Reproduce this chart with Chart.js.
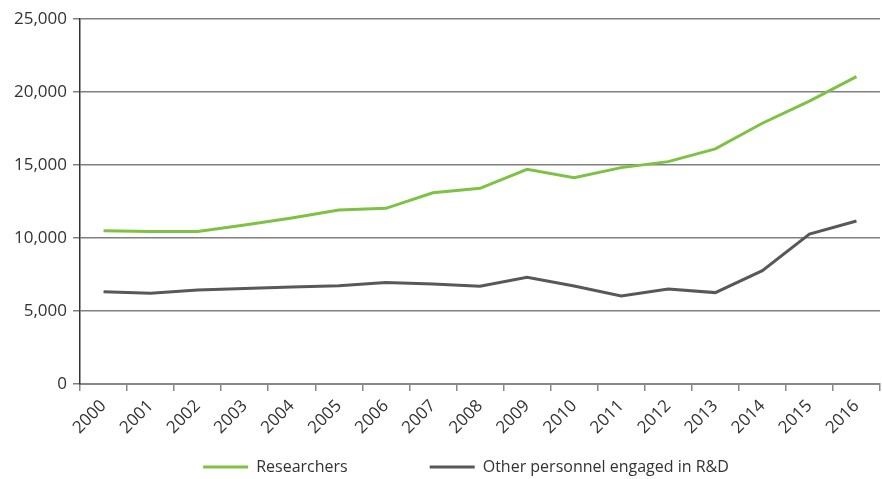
<!DOCTYPE html>
<html><head><meta charset="utf-8">
<script src="https://cdn.jsdelivr.net/npm/chart.js@4"></script>
<style>html,body{margin:0;padding:0;background:#fff;overflow:hidden}#w{width:882px;height:479px}</style>
</head><body><div id="w"><canvas id="c"></canvas></div>
<script>
const years = ["2000","2001","2002","2003","2004","2005","2006","2007","2008","2009","2010","2011","2012","2013","2014","2015","2016"];
const researchers = [10500,10440,10440,10890,11370,11920,12030,13100,13400,14700,14130,14820,15230,16100,17860,19380,21050];
const otherPersonnel = [6320,6210,6440,6540,6640,6730,6960,6850,6690,7310,6710,6030,6510,6260,7760,10270,11160];
const seriesNames = ["Researchers","Other personnel engaged in R&D"];
const yTicks = [0,5000,10000,15000,20000,25000];

const FONT = "'Open Sans', sans-serif";
const legendPlace = {
  id: 'legendPlace',
  afterLayout(chart) {
    const lg = chart.legend;
    lg.left = chart.chartArea.left - 28;
    lg.right = chart.chartArea.right;
    lg.top = 467 - 82 - 8;
    lg.bottom = chart.height;
    lg.width = lg.right - lg.left;
    lg.height = lg.bottom - lg.top;
  }
};
new Chart(document.getElementById('c'), {
  type: 'line',
  data: {
    labels: years,
    datasets: [
      {label: seriesNames[0], data: researchers, borderColor: '#7dc242', backgroundColor: '#7dc242', borderWidth: 3, pointRadius: 0, pointStyle: 'line', tension: 0},
      {label: seriesNames[1], data: otherPersonnel, borderColor: '#58585a', backgroundColor: '#58585a', borderWidth: 3, pointRadius: 0, pointStyle: 'line', tension: 0}
    ]
  },
  plugins: [legendPlace],
  options: {
    responsive: true, maintainAspectRatio: false, animation: false,
    layout: {padding: {top: 19, right: 2, left: 0, bottom: 0}},
    plugins: {
      tooltip: {enabled: false},
      legend: {position: 'bottom', maxHeight: 10, labels: {usePointStyle: true, pointStyleWidth: 45, color: '#333', font: {family: FONT, size: 16}, padding: 82}}
    },
    scales: {
      x: {
        offset: true,
        afterFit: s => { s.height = 85; },
        grid: {display: true, drawOnChartArea: false, drawTicks: true, tickLength: 7, color: '#888', lineWidth: 1.5, offset: true},
        border: {display: true, color: '#888', width: 2},
        ticks: {color: '#333', font: {family: FONT, size: 17}, maxRotation: 45, minRotation: 45, padding: 5}
      },
      y: {
        min: 0, max: 25000,
        afterBuildTicks: s => { s.ticks = yTicks.map(v => ({value: v})); },
        afterFit: s => { s.width = 80; },
        grid: {color: '#808080', lineWidth: 1.5, tickLength: 7},
        border: {display: true, color: '#333', width: 1.5},
        ticks: {color: '#333', font: {family: FONT, size: 17}, padding: 6, callback: v => v.toLocaleString('en-US')}
      }
    }
  }
});
</script></body></html>
